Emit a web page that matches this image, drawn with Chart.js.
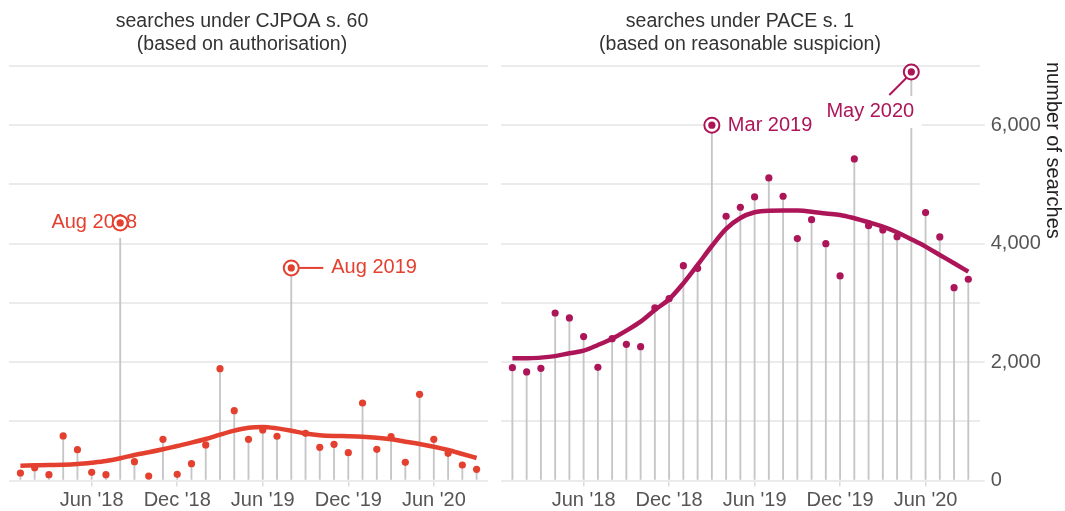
<!DOCTYPE html>
<html>
<head>
<meta charset="utf-8">
<script src="https://cdn.jsdelivr.net/npm/chart.js@4.4.1/dist/chart.umd.min.js"></script>
<style>
  html, body { margin: 0; padding: 0; background: #fff; }
  #wrap { position: relative; width: 1065px; height: 511px; }
  canvas { position: absolute; top: 0; }
</style>
</head>
<body>
<div id="wrap">
  <canvas id="left" width="497" height="511" style="left:0"></canvas>
  <canvas id="right" width="568" height="511" style="left:497px"></canvas>
</div>
<script>
// months Jan 2018 .. Sep 2020, index 0..32
var tickIdx = [5, 11, 17, 23, 29];
var tickLabels = ["Jun '18", "Dec '18", "Jun '19", "Dec '19", "Jun '20"];
var yTicks = [0, 2000, 4000, 6000];

// CJPOA s. 60
var cjpoa = [127, 216, 98, 752, 520, 138, 98, 4350, 318, 76, 696, 105, 284, 600, 1889, 1179, 696,
             853, 747, 3590, 797, 561, 611, 470, 1309, 527, 740, 307, 1456, 696, 459, 262, 189];
var cjpoaTrend = [250, 256, 262, 267, 279, 301, 329, 375, 431, 476, 527, 583, 639, 701, 774, 842, 892,
                  904, 880, 840, 795, 765, 752, 748, 740, 723, 696, 656, 617, 571, 515, 448, 380];
var cjpoaNoteIdx = [7, 19];
var cjpoaNoteText = ["Aug 2018", "Aug 2019"];

// PACE s. 1
var pace = [1905, 1833, 1895, 2829, 2745, 2430, 1912, 2395, 2300, 2260, 2914, 3071, 3628, 3584, 6000, 4463, 4615,
            4789, 5110, 4800, 4085, 4405, 4000, 3454, 5430, 4304, 4231, 4118, 6900, 4524, 4113, 3257, 3399];
var paceTrend = [2064, 2066, 2075, 2100, 2149, 2193, 2289, 2395, 2531, 2683, 2880, 3061, 3330, 3640, 3960, 4250, 4434,
                 4530, 4557, 4560, 4558, 4540, 4510, 4485, 4429, 4361, 4287, 4192, 4074, 3950, 3809, 3669, 3527];
var paceNoteIdx = [14, 28];
var paceNoteText = ["Mar 2019", "May 2020"];

var FONT = '"Liberation Sans", Arial, Helvetica, sans-serif';
var RED = '#e4402f';
var PLUM = '#ad1559';

function pts(arr) {
  return arr.map(function(v, i) { return {x: i, y: v}; });
}

function makeDatasets(vals, trend, color) {
  return [
    {type: 'line', data: pts(vals), showLine: false, pointRadius: 3.6, pointBackgroundColor: color,
     pointBorderWidth: 0, order: 1, clip: false},
    {type: 'line', data: pts(trend), borderColor: color, borderWidth: 4.5, pointRadius: 0,
     cubicInterpolationMode: 'monotone', fill: false, order: 2},
    {type: 'bar', data: pts(vals), backgroundColor: '#c6c6c6', barThickness: 1.2, order: 3}
  ];
}

function xScale() {
  return {
    type: 'linear', min: -0.8, max: 32.8, offset: false,
    afterBuildTicks: function(s) { s.ticks = tickIdx.map(function(v) { return {value: v}; }); },
    ticks: {
      callback: function(v) { return tickLabels[tickIdx.indexOf(v)]; },
      font: {family: FONT, size: 20}, color: '#555', maxRotation: 0, autoSkip: false, padding: 2
    },
    grid: {drawOnChartArea: false, offset: false, tickLength: 6, color: '#dcdcdc', lineWidth: 1.5},
    border: {display: false},
    afterFit: function(s) { s.height = 30.5; }
  };
}

function yGrid(s) {
  var t = [];
  for (var v = 0; v <= 7000; v += 1000) t.push({value: v});
  s.ticks = t;
}

// panel titles, centred over each panel
var panelTitle = {
  id: 'panelTitle',
  afterDraw: function(chart, args, opts) {
    var ctx = chart.ctx;
    ctx.save();
    ctx.font = '19.5px ' + FONT;
    ctx.fillStyle = '#333';
    ctx.textAlign = 'center';
    ctx.textBaseline = 'middle';
    opts.lines.forEach(function(t, i) { ctx.fillText(t, opts.x, 22 + i * 23); });
    ctx.restore();
  }
};

// ringed points with their labels
var callouts = {
  id: 'callouts',
  afterDatasetsDraw: function(chart, args, opts) {
    var xs = chart.scales.x, ys = chart.scales.y, ctx = chart.ctx;
    opts.idx.forEach(function(idx, k) {
      var st = opts.place[k];
      var px = xs.getPixelForValue(idx), py = ys.getPixelForValue(opts.values[idx]);
      ctx.save();
      ctx.strokeStyle = opts.color;
      ctx.lineWidth = 2;
      if (st.line) {
        ctx.beginPath();
        ctx.moveTo(px + st.line[0], py + st.line[1]);
        ctx.lineTo(px + st.line[2], py + st.line[3]);
        ctx.stroke();
      }
      ctx.font = '20px ' + FONT;
      ctx.textBaseline = 'middle';
      ctx.textAlign = st.align;
      var w = ctx.measureText(opts.text[k]).width;
      var tx = px + st.dx, ty = py + st.dy;
      var left = st.align === 'center' ? tx - w / 2 : tx;
      ctx.fillStyle = '#fff';
      ctx.fillRect(left - st.pad[0], ty - 11 - st.pad[1], w + 2 * st.pad[0], 22 + 2 * st.pad[1]);
      ctx.fillStyle = opts.color;
      ctx.fillText(opts.text[k], tx, ty);
      ctx.beginPath();
      ctx.arc(px, py, 7.5, 0, 2 * Math.PI);
      ctx.fillStyle = '#fff';
      ctx.fill();
      ctx.stroke();
      ctx.beginPath();
      ctx.arc(px, py, 3.6, 0, 2 * Math.PI);
      ctx.fillStyle = opts.color;
      ctx.fill();
      ctx.restore();
    });
  }
};

var axisTitle = {
  id: 'axisTitle',
  afterDraw: function(chart) {
    var ctx = chart.ctx;
    ctx.save();
    ctx.translate(1053 - 497, 62);
    ctx.rotate(Math.PI / 2);
    ctx.font = '20px ' + FONT;
    ctx.fillStyle = '#222';
    ctx.textAlign = 'left';
    ctx.textBaseline = 'middle';
    ctx.fillText('number of searches', 0, 0);
    ctx.restore();
  }
};

var common = {
  responsive: false,
  animation: false,
  events: [],
  plugins: {legend: {display: false}, tooltip: {enabled: false}}
};

new Chart(document.getElementById('left'), {
  type: 'line',
  data: {datasets: makeDatasets(cjpoa, cjpoaTrend, RED)},
  options: Object.assign({}, common, {
    layout: {padding: {top: 66, left: 9, right: 9, bottom: 0}},
    scales: {
      x: xScale(),
      y: {
        min: 0, max: 7000, afterBuildTicks: yGrid,
        ticks: {display: false},
        grid: {color: '#ebebeb', lineWidth: 2, drawTicks: false},
        border: {display: false},
        afterFit: function(s) { s.width = 0; }
      }
    },
    plugins: Object.assign({}, common.plugins, {
      panelTitle: {x: 242, lines: ['searches under CJPOA s. 60', '(based on authorisation)']},
      callouts: {
        values: cjpoa, idx: cjpoaNoteIdx, text: cjpoaNoteText, color: RED,
        place: [
          {dx: -26, dy: 0, align: 'center', pad: [2, 4]},
          {dx: 40, dy: 0, align: 'left', pad: [3, 2], line: [8, 0, 32, 0]}
        ]
      }
    })
  }),
  plugins: [panelTitle, callouts]
});

new Chart(document.getElementById('right'), {
  type: 'line',
  data: {datasets: makeDatasets(pace, paceTrend, PLUM)},
  options: Object.assign({}, common, {
    layout: {padding: {top: 66, left: 3.9, right: 0, bottom: 0}},
    scales: {
      x: xScale(),
      y: {
        position: 'right', min: 0, max: 7000, afterBuildTicks: yGrid,
        ticks: {
          callback: function(v) { return yTicks.indexOf(v) >= 0 ? v.toLocaleString('en-US') : ''; },
          font: {family: FONT, size: 20}, color: '#555', padding: 6
        },
        grid: {
          color: '#ebebeb', lineWidth: 2, tickLength: 5,
          tickColor: function(c) { return yTicks.indexOf(c.tick.value) >= 0 ? '#ebebeb' : 'rgba(0,0,0,0)'; }
        },
        border: {display: false},
        afterFit: function(s) { s.width = 85.3; }
      }
    },
    plugins: Object.assign({}, common.plugins, {
      panelTitle: {x: 740 - 497, lines: ['searches under PACE s. 1', '(based on reasonable suspicion)']},
      callouts: {
        values: pace, idx: paceNoteIdx, text: paceNoteText, color: PLUM,
        place: [
          {dx: 16, dy: 0, align: 'left', pad: [8, 3]},
          {dx: -41, dy: 40, align: 'center', pad: [7.5, 5], line: [-5, 6, -22, 23]}
        ]
      }
    })
  }),
  plugins: [panelTitle, callouts, axisTitle]
});
</script>
</body>
</html>
